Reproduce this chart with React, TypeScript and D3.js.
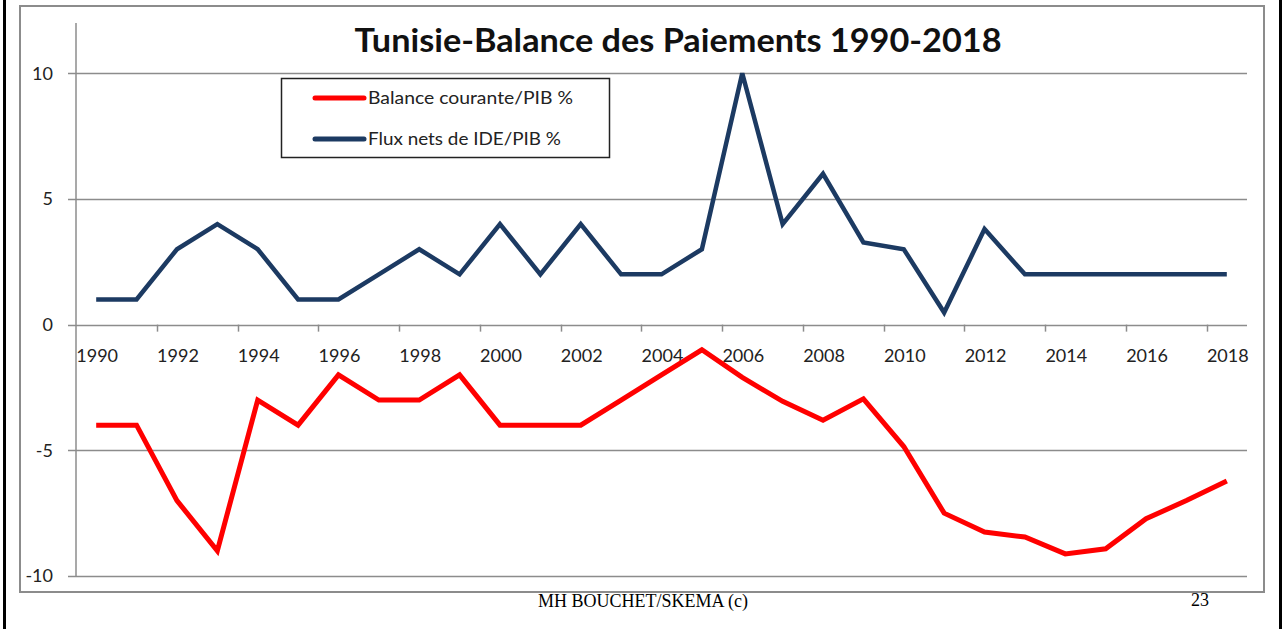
import React from "react";
import * as d3 from "d3";

const YEARS: number[] = [
  1990, 1991, 1992, 1993, 1994, 1995, 1996, 1997, 1998, 1999,
  2000, 2001, 2002, 2003, 2004, 2005, 2006, 2007, 2008, 2009,
  2010, 2011, 2012, 2013, 2014, 2015, 2016, 2017, 2018,
];

const BALANCE_COURANTE: number[] = [
  -4, -4, -7, -9, -3, -4, -2, -3, -3, -2,
  -4, -4, -4, -3, -2, -1, -2.1, -3.05, -3.8, -2.95,
  -4.85, -7.5, -8.25, -8.45, -9.12, -8.92, -7.72, -7.0, -6.22,
];

const FLUX_IDE: number[] = [
  1, 1, 3, 4, 3, 1, 1, 2, 3, 2,
  4, 2, 4, 2, 2, 3, 10, 4, 6, 3.27,
  3, 0.48, 3.8, 2, 2, 2, 2, 2, 2,
];

const Y_TICKS: number[] = [-10, -5, 0, 5, 10];
const X_LABEL_YEARS: number[] = YEARS.filter((y) => y % 2 === 0);
const X_TICK_YEARS: number[] = YEARS.filter((y) => y % 2 === 0 && y > 1990);

const SERIES = [
  { name: "Balance courante/PIB %", values: BALANCE_COURANTE, color: "#ff0000", width: 5 },
  { name: "Flux nets de IDE/PIB %", values: FLUX_IDE, color: "#1c3a62", width: 4.5 },
];

const TITLE = "Tunisie-Balance des Paiements 1990-2018";
const FOOTER = "MH BOUCHET/SKEMA (c)";
const PAGE = "23";

export default function App() {
  const W = 1284;
  const H = 629;
  const left = 76;
  const right = 1247;
  const top = 23;
  const bottom = 576;

  const x = d3.scalePoint<number>().domain(YEARS).range([left, right]).padding(0.5);
  const step = x.step();
  const y = d3.scaleLinear().domain([-10, 12]).range([bottom, top]);

  const line = d3
    .line<number>()
    .x((_, i) => x(YEARS[i]) as number)
    .y((d) => y(d))
    .curve(d3.curveLinear);

  const tickFont = "Lato, 'Open Sans', sans-serif";
  const gridColor = "#8c8c8c";

  return (
    <svg
      width={W}
      height={H}
      style={{ position: "absolute", left: 0, top: 0, background: "#fff" }}
      xmlns="http://www.w3.org/2000/svg"
    >
      <rect x={0} y={0} width={W} height={H} fill="#fff" />
      {/* slide frame */}
      <line x1={4.5} x2={4.5} y1={0} y2={H} stroke="#000" strokeWidth={3} />
      <line x1={1280.5} x2={1280.5} y1={0} y2={H} stroke="#000" strokeWidth={3} />

      {/* chart frame */}
      <rect x={20} y={6} width={1244} height={586} fill="#fff" stroke={gridColor} strokeWidth={2} />

      {/* title */}
      <text
        x={678}
        y={52}
        textAnchor="middle"
        fontFamily={tickFont}
        fontWeight={700}
        fontSize={32}
        fill="#111"
        textLength={647}
        lengthAdjust="spacingAndGlyphs"
      >
        {TITLE}
      </text>

      {/* gridlines + y ticks */}
      {Y_TICKS.map((t) => (
        <g key={t}>
          <line x1={68} x2={right} y1={Math.round(y(t)) + 0.5} y2={Math.round(y(t)) + 0.5} stroke={gridColor} strokeWidth={1.5} />
          <text
            x={53}
            y={y(t)}
            dy="0.35em"
            textAnchor="end"
            fontFamily={tickFont}
            fontSize={18}
            fill="#222"
          >
            {t}
          </text>
        </g>
      ))}

      {/* y axis line */}
      <line x1={left} x2={left} y1={top} y2={bottom} stroke={gridColor} strokeWidth={1.5} />

      {/* x axis ticks at category boundaries */}
      {X_TICK_YEARS.map((yr) => {
        const xx = Math.round((x(yr) as number) - step / 2) + 0.5;
        return <line key={yr} x1={xx} x2={xx} y1={y(0)} y2={y(0) + 7} stroke={gridColor} strokeWidth={1.5} />;
      })}
      {X_LABEL_YEARS.map((yr) => (
        <text
          key={yr}
          x={(x(yr) as number) + 1}
          y={362}
          textAnchor="middle"
          fontFamily={tickFont}
          fontSize={18}
          fill="#222"
        >
          {yr}
        </text>
      ))}

      {/* series */}
      {SERIES.map((s) => (
        <path
          key={s.name}
          d={line(s.values) || ""}
          fill="none"
          stroke={s.color}
          strokeWidth={s.width}
          strokeLinejoin="miter"
          strokeMiterlimit={3}
        />
      ))}

      {/* legend */}
      <rect x={281.5} y={78.5} width={328} height={79} fill="#fff" stroke="#222" strokeWidth={1.5} />
      {SERIES.map((s, i) => {
        const ly = 98 + i * 41;
        return (
          <g key={s.name}>
            <line x1={315} x2={364} y1={ly} y2={ly} stroke={s.color} strokeWidth={5} strokeLinecap="round" />
            <text
              x={368}
              y={ly}
              dy="0.35em"
              fontFamily={tickFont}
              fontSize={17}
              fill="#222"
              textLength={i === 0 ? 205 : 193}
              lengthAdjust="spacingAndGlyphs"
            >
              {s.name}
            </text>
          </g>
        );
      })}

      {/* footer */}
      <text x={643} y={607} textAnchor="middle" fontFamily="'Liberation Serif', 'Times New Roman', serif" fontSize={18} fill="#000">
        {FOOTER}
      </text>
      <text x={1200} y={606} textAnchor="middle" fontFamily="'Liberation Serif', 'Times New Roman', serif" fontSize={18} fill="#000">
        {PAGE}
      </text>
    </svg>
  );
}
